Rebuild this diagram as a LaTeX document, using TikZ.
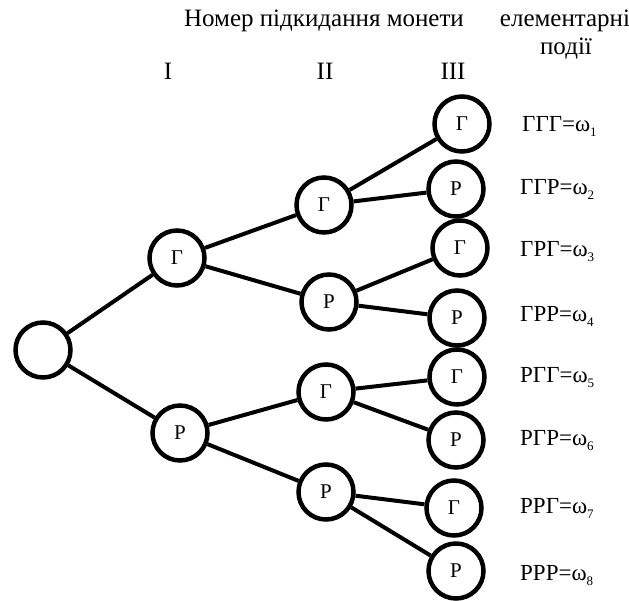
\documentclass[tikz,border=0pt]{standalone}
\usepackage{fontspec}
\setmainfont{Liberation Serif}
\newcommand{\om}[1]{ω\raisebox{-5pt}{\fontsize{13}{13}\selectfont #1}}
\tikzset{
  coin/.style={circle,draw,line width=4.5pt,minimum size=55pt,inner sep=0pt,font=\fontsize{21}{21}\selectfont},
  branch/.style={line width=4pt},
  event/.style={anchor=base west,inner sep=0pt,font=\fontsize{23}{23}\selectfont},
  head/.style={anchor=base,inner sep=0pt,font=\fontsize{25}{25}\selectfont}
}
\begin{document}
\begin{tikzpicture}[x=1pt,y=-1pt]
    \useasboundingbox (0,0) rectangle (629,601);
    \node[head] (T) at (324,27) {Номер підкидання монети};
    \node[head] (E1) at (565,27) {елементарні};
    \node[head] (E2) at (566,55) {події};
    \node[head] (N1) at (168,80) {I};
    \node[head] (N2) at (325,80) {II};
    \node[head] (N3) at (453,80) {III};
    \node[coin] (O) at (43,350) {};
    \node[coin] (G) at (177,258) {Г};
    \node[coin] (P) at (180,433) {Р};
    \node[coin] (GG) at (324,205) {Г};
    \node[coin] (GP) at (329,302) {Р};
    \node[coin] (PG) at (326,392) {Г};
    \node[coin] (PP) at (326,492) {Р};
    \node[coin] (GGG) at (462,124) {Г};
    \node[coin] (GGP) at (456,189) {Р};
    \node[coin] (GPG) at (460,248) {Г};
    \node[coin] (GPP) at (457,318) {Р};
    \node[coin] (PGG) at (457,377) {Г};
    \node[coin] (PGP) at (456,440) {Р};
    \node[coin] (PPG) at (454,508) {Г};
    \node[coin] (PPP) at (456,571) {Р};
    \draw[branch] (O) -- (G);
    \draw[branch] (O) -- (P);
    \draw[branch] (G) -- (GG);
    \draw[branch] (G) -- (GP);
    \draw[branch] (P) -- (PG);
    \draw[branch] (P) -- (PP);
    \draw[branch] (GG) -- (GGG);
    \draw[branch] (GG) -- (GGP);
    \draw[branch] (GP) -- (GPG);
    \draw[branch] (GP) -- (GPP);
    \draw[branch] (PG) -- (PGG);
    \draw[branch] (PG) -- (PGP);
    \draw[branch] (PP) -- (PPG);
    \draw[branch] (PP) -- (PPP);
    \node[event] (W1) at (522,132) {ГГГ=\om{1}};
    \node[event] (W2) at (520,195) {ГГР=\om{2}};
    \node[event] (W3) at (520,257) {ГРГ=\om{3}};
    \node[event] (W4) at (520,322) {ГРР=\om{4}};
    \node[event] (W5) at (520,383) {РГГ=\om{5}};
    \node[event] (W6) at (520,445) {РГР=\om{6}};
    \node[event] (W7) at (520,513) {РРГ=\om{7}};
    \node[event] (W8) at (520,580) {РРР=\om{8}};
  \end{tikzpicture}
\end{document}
